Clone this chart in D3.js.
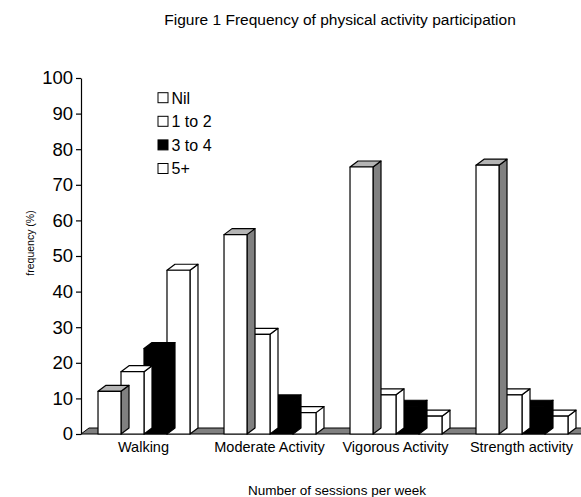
<!DOCTYPE html>
<html>
<head>
<meta charset="utf-8">
<script src="https://cdn.jsdelivr.net/npm/d3@7"></script>
<style>
  html, body { margin: 0; padding: 0; background: #fff; }
  svg { display: block; }
  text { font-family: Arial, 'Liberation Sans', sans-serif; fill: #000; }
</style>
</head>
<body>
<div id="container"></div>
<script>
const categories = ['Walking', 'Moderate Activity', 'Vigorous Activity', 'Strength activity'];
const seriesNames = ['Nil', '1 to 2', '3 to 4', '5+'];
const nilValues = [12, 56, 75, 75.5];
const oneToTwoValues = [17.5, 28, 11, 11];
const threeToFourValues = [24, 9.3, 7.8, 7.8];
const fivePlusValues = [46, 6, 5, 5];
const yTicks = [0, 10, 20, 30, 40, 50, 60, 70, 80, 90, 100];

const width = 581;
const height = 497;
const depth = { x: 8, y: -6 };

// face colours per series: front, top, side
const faces = {
  'Nil': { front: '#ffffff', top: '#b4b4b4', side: '#808080' },
  '1 to 2': { front: '#ffffff', top: '#ffffff', side: '#ffffff' },
  '3 to 4': { front: '#000000', top: '#000000', side: '#000000' },
  '5+': { front: '#ffffff', top: '#ffffff', side: '#ffffff' }
};

const valuesBySeries = {
  'Nil': nilValues,
  '1 to 2': oneToTwoValues,
  '3 to 4': threeToFourValues,
  '5+': fivePlusValues
};

const svg = d3.select('#container').append('svg')
  .attr('width', width)
  .attr('height', height);

svg.append('rect')
  .attr('width', width)
  .attr('height', height)
  .attr('fill', '#fff');

const x0 = d3.scaleBand()
  .domain(categories)
  .range([81, 585])
  .paddingInner(0)
  .paddingOuter(0);

const x1 = d3.scaleBand()
  .domain(seriesNames)
  .range([0, x0.bandwidth()])
  .paddingInner(0)
  .paddingOuter(0.74);

const y = d3.scaleLinear()
  .domain([0, 100])
  .range([434, 78]);

// floor
const y0 = y(0);
svg.append('path')
  .attr('d', d3.line()([
    [x0.range()[0], y0],
    [x0.range()[0] + depth.x, y0 + depth.y],
    [width + 10, y0 + depth.y],
    [width + 10, y0]
  ]) + 'Z')
  .attr('fill', '#808080')
  .attr('stroke', '#000')
  .attr('stroke-width', 1);

// bars: draw right-most series first so left bars overlap them
const bars = [];
categories.forEach((cat, ci) => {
  seriesNames.slice().reverse().forEach(s => {
    bars.push({ cat, series: s, value: valuesBySeries[s][ci] });
  });
});

const barG = svg.append('g');
const w = x1.bandwidth();

bars.forEach(d => {
  const bx = x0(d.cat) + x1(d.series);
  const yt = y(d.value);
  const f = faces[d.series];
  const g = barG.append('g')
    .attr('stroke', '#000')
    .attr('stroke-width', 1.2)
    .attr('stroke-linejoin', 'round');

  g.append('path')
    .attr('d', d3.line()([
      [bx + w, yt], [bx + w + depth.x, yt + depth.y],
      [bx + w + depth.x, y0 + depth.y], [bx + w, y0]
    ]) + 'Z')
    .attr('fill', f.side);

  g.append('path')
    .attr('d', d3.line()([
      [bx, yt], [bx + depth.x, yt + depth.y],
      [bx + w + depth.x, yt + depth.y], [bx + w, yt]
    ]) + 'Z')
    .attr('fill', f.top);

  g.append('rect')
    .attr('x', bx)
    .attr('y', yt)
    .attr('width', w)
    .attr('height', y0 - yt)
    .attr('fill', f.front);
});

// y axis
const yAxis = d3.axisLeft(y)
  .tickValues(yTicks)
  .tickSize(5)
  .tickSizeOuter(0)
  .tickPadding(3);

const yAxisG = svg.append('g')
  .attr('transform', `translate(${81},0)`)
  .call(yAxis);

yAxisG.selectAll('text')
  .attr('font-size', 18.5)
  .attr('font-family', "Arial, 'Liberation Sans', sans-serif")
  .attr('fill', '#000');
yAxisG.selectAll('line, path').attr('stroke', '#000').attr('stroke-width', 1.2);

// category labels
svg.append('g').selectAll('text')
  .data(categories).enter()
  .append('text')
  .attr('x', d => x0(d) + x0.bandwidth() / 2 - 0.5)
  .attr('y', 452)
  .attr('text-anchor', 'middle')
  .attr('font-size', 14.5)
  .text(d => d);

// legend
const legend = svg.append('g');
seriesNames.forEach((s, i) => {
  const cy = 97.7 + i * 23.6;
  legend.append('rect')
    .attr('x', 158)
    .attr('y', cy - 5)
    .attr('width', 10)
    .attr('height', 10)
    .attr('fill', s === '3 to 4' ? '#000' : '#fff')
    .attr('stroke', '#000')
    .attr('stroke-width', 1);
  legend.append('text')
    .attr('x', 171.5)
    .attr('y', cy + 5.8)
    .attr('font-size', 16)
    .text(s);
});

// titles
svg.append('text')
  .attr('x', 340)
  .attr('y', 25)
  .attr('text-anchor', 'middle')
  .attr('font-size', 15.5)
  .text('Figure 1 Frequency of physical activity participation');

svg.append('text')
  .attr('x', 337)
  .attr('y', 495)
  .attr('text-anchor', 'middle')
  .attr('font-size', 13.5)
  .text('Number of sessions per week');

svg.append('text')
  .attr('transform', `translate(34,243) rotate(-90)`)
  .attr('text-anchor', 'middle')
  .attr('font-size', 10.5)
  .text('frequency (%)');
</script>
</body>
</html>
